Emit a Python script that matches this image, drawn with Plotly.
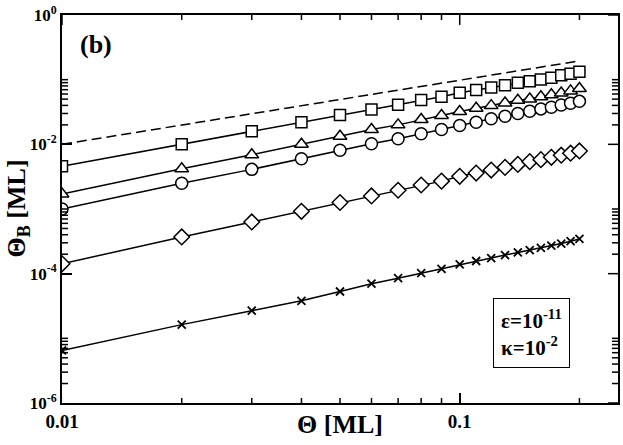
import plotly.graph_objects as go

# coverage values (ML)
theta = [0.01, 0.02, 0.03, 0.04, 0.05, 0.06, 0.07, 0.08, 0.09, 0.10,
         0.11, 0.12, 0.13, 0.14, 0.15, 0.16, 0.17, 0.18, 0.19, 0.20]

# reference line Theta_B = Theta
ref_x = [0.01, 0.2]
ref_y = [0.01, 0.195]

squares = [4.6e-3, 1.0e-2, 1.6e-2, 2.2e-2, 2.85e-2, 3.45e-2, 4.1e-2, 4.84e-2, 5.46e-2, 6.28e-2,
           6.9e-2, 7.59e-2, 8.22e-2, 8.95e-2, 9.48e-2, 0.1006, 0.1067, 0.117, 0.124, 0.132]
triangles = [1.71e-3, 4.2e-3, 6.9e-3, 1.0e-2, 1.33e-2, 1.7e-2, 2.0e-2, 2.42e-2, 2.79e-2, 3.21e-2,
             3.61e-2, 3.97e-2, 4.36e-2, 4.79e-2, 5.02e-2, 5.45e-2, 5.86e-2, 6.2e-2, 6.7e-2, 7.3e-2]
circles = [1.0e-3, 2.5e-3, 4.1e-3, 6.0e-3, 8.1e-3, 1.02e-2, 1.22e-2, 1.46e-2, 1.7e-2, 1.96e-2,
           2.2e-2, 2.48e-2, 2.72e-2, 2.99e-2, 3.25e-2, 3.53e-2, 3.74e-2, 4.06e-2, 4.31e-2, 4.62e-2]
diamonds = [1.42e-4, 3.7e-4, 6.3e-4, 9.2e-4, 1.26e-3, 1.59e-3, 1.95e-3, 2.35e-3, 2.7e-3, 3.2e-3,
            3.6e-3, 4.0e-3, 4.4e-3, 4.9e-3, 5.4e-3, 5.8e-3, 6.3e-3, 6.8e-3, 7.3e-3, 7.9e-3]
crosses = [6.5e-6, 1.63e-5, 2.68e-5, 3.8e-5, 5.3e-5, 7.0e-5, 8.5e-5, 1.02e-4, 1.19e-4, 1.39e-4,
           1.57e-4, 1.74e-4, 1.94e-4, 2.13e-4, 2.31e-4, 2.5e-4, 2.72e-4, 2.92e-4, 3.18e-4, 3.44e-4]

# ticks
x_major = [0.01, 0.1]
x_labels = ["0.01", "0.1"]
x_minor = [0.02, 0.03, 0.04, 0.05, 0.06, 0.07, 0.08, 0.09, 0.2]
y_major = [1e-6, 1e-4, 1e-2, 1]
y_labels = ["10<sup>-6</sup>", "10<sup>-4</sup>", "10<sup>-2</sup>", "10<sup>0</sup>"]
y_minor = [2e-6, 3e-6, 4e-6, 5e-6, 6e-6, 7e-6, 8e-6, 9e-6, 1e-5,
           2e-4, 3e-4, 4e-4, 5e-4, 6e-4, 7e-4, 8e-4, 9e-4, 1e-3,
           2e-2, 3e-2, 4e-2, 5e-2, 6e-2, 7e-2, 8e-2, 9e-2, 1e-1]

X_RANGE = [-2, -0.602]
Y_RANGE = [-6, 0]
FONT = "Liberation Serif"

fig = go.Figure()

fig.add_trace(go.Scatter(x=ref_x, y=ref_y, mode="lines",
                         line=dict(color="black", width=1.5, dash="10px,5px")))

series = [
    (squares, "square", 11),
    (triangles, "triangle-up", 12),
    (circles, "circle", 12),
    (diamonds, "diamond", 12),
]
for ys, sym, size in series:
    fig.add_trace(go.Scatter(
        x=theta, y=ys, mode="lines+markers",
        line=dict(color="black", width=1.5),
        marker=dict(symbol=sym, size=size, color="white",
                    line=dict(color="black", width=1.5))))

fig.add_trace(go.Scatter(
    x=theta, y=crosses, mode="lines+markers",
    line=dict(color="black", width=1.5),
    marker=dict(symbol="x-thin", size=8, color="black",
                line=dict(color="black", width=1.8))))

# axes: mirrored lines give the closed frame
fig.update_xaxes(
    type="log", range=X_RANGE, showgrid=False, zeroline=False,
    showline=True, linecolor="black", linewidth=2, mirror=True,
    ticks="inside", ticklen=10, tickwidth=1.5, tickcolor="black",
    tickmode="array", tickvals=x_major, ticktext=x_labels,
    tickfont=dict(family=FONT, size=19, color="black", weight="bold"),
)
fig.update_yaxes(
    type="log", range=Y_RANGE, showgrid=False, zeroline=False,
    showline=True, linecolor="black", linewidth=2, mirror=True,
    ticks="inside", ticklen=10, tickwidth=1.5, tickcolor="black",
    tickmode="array", tickvals=y_major, ticktext=y_labels,
    ticklabeloverflow="allow",
    tickfont=dict(family=FONT, size=17, color="black", weight="bold"),
)

# short minor ticks on all four sides, at the tick positions from the lists
minor_len_x = 5 / 391
minor_len_y = 6 / 558
major_len_x = 10 / 391
major_len_y = 10 / 558
for v in x_minor:
    fig.add_shape(type="line", xref="x", yref="paper", x0=v, x1=v, y0=0, y1=minor_len_x,
                  line=dict(color="black", width=1.5))
    fig.add_shape(type="line", xref="x", yref="paper", x0=v, x1=v, y0=1 - minor_len_x, y1=1,
                  line=dict(color="black", width=1.5))
for v in x_major:
    fig.add_shape(type="line", xref="x", yref="paper", x0=v, x1=v, y0=1 - major_len_x, y1=1,
                  line=dict(color="black", width=1.5))
for v in y_minor:
    fig.add_shape(type="line", xref="paper", yref="y", x0=0, x1=minor_len_y, y0=v, y1=v,
                  line=dict(color="black", width=1.5))
    fig.add_shape(type="line", xref="paper", yref="y", x0=1 - minor_len_y, x1=1, y0=v, y1=v,
                  line=dict(color="black", width=1.5))
for v in y_major:
    fig.add_shape(type="line", xref="paper", yref="y", x0=1 - major_len_y, x1=1, y0=v, y1=v,
                  line=dict(color="black", width=1.5))

# axis titles
fig.add_annotation(x=0.5, y=-0.056, xref="paper", yref="paper",
                   xanchor="center", yanchor="middle", showarrow=False,
                   text="Θ [ML]",
                   font=dict(family=FONT, size=26, color="black", weight="bold"))
fig.add_annotation(x=-0.08, y=0.5, xref="paper", yref="paper",
                   xanchor="center", yanchor="middle", showarrow=False,
                   textangle=-90, text="Θ<sub>B</sub> [ML]",
                   font=dict(family=FONT, size=26, color="black", weight="bold"))

fig.add_annotation(x=0.061, y=0.923, xref="paper", yref="paper",
                   xanchor="center", yanchor="middle",
                   text="(b)", showarrow=False,
                   font=dict(family=FONT, size=26, color="black", weight="bold"))
fig.add_annotation(x=0.844, y=0.1816, xref="paper", yref="paper",
                   xanchor="center", yanchor="middle",
                   text="ε=10<sup>-11</sup><br>κ=10<sup>-2</sup>",
                   showarrow=False, align="left",
                   bordercolor="black", borderwidth=1, borderpad=7,
                   font=dict(family=FONT, size=21, color="black", weight="bold"))

fig.update_layout(
    width=623, height=445,
    margin=dict(l=62, r=3, t=12, b=42),
    paper_bgcolor="white", plot_bgcolor="white",
    showlegend=False,
)

fig.write_html("out.html", config={"displayModeBar": False},
               post_script="document.body.style.margin='0';")
